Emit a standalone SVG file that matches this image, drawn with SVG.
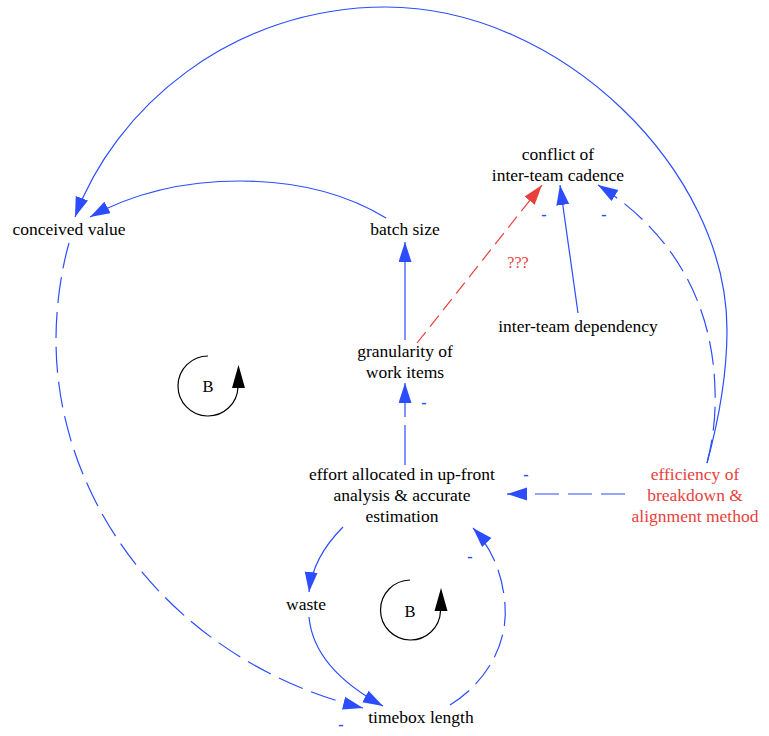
<svg xmlns="http://www.w3.org/2000/svg" width="769" height="736" viewBox="0 0 769 736" font-family="Liberation Serif, Tinos, Times New Roman, DejaVu Serif, serif">
<style>
text{font-family:"Liberation Serif","Tinos","Times New Roman","DejaVu Serif",serif;font-size:17.5px;fill:#000;text-anchor:middle}
.red{fill:#e8413c}
.e{fill:none;stroke:#2b4cff;stroke-width:1.2}
.er{fill:none;stroke:#e8413c;stroke-width:1.2}
.d1{stroke-dasharray:26 9}
.d2{stroke-dasharray:24 9}
.d3{stroke-dasharray:40 8}
.dr{stroke-dasharray:14 7}
.pol{fill:#2b4cff;font-size:16px;font-weight:bold}
.loop{fill:none;stroke:#000;stroke-width:1.2}
.lb{font-size:16.5px}
</style>
<defs>
<marker id="ab" markerUnits="userSpaceOnUse" markerWidth="21" markerHeight="14" refX="20" refY="6.5" orient="auto">
<path d="M0,0 L20,6.5 L0,13 z" fill="#2b4cff"/>
</marker>
<marker id="ar" markerUnits="userSpaceOnUse" markerWidth="21" markerHeight="14" refX="20" refY="6.5" orient="auto">
<path d="M0,0 L20,6.5 L0,13 z" fill="#e8413c"/>
</marker>
</defs>
<rect width="769" height="736" fill="#fff"/>
<g id="connectors">
<path class="e" marker-end="url(#ab)" d="M707,463 C716,430 727,380 727,330 C727,170 560,7 386,7 C230,7 114,110 75,217"/>
<path class="e" marker-end="url(#ab)" d="M386,218 C340,190 290,181 240,181 C180,181 130,195 90,217"/>
<path class="e" marker-end="url(#ab)" d="M405,340 L405,242"/>
<path class="er dr" marker-end="url(#ar)" d="M417,343 L542,185"/>
<path class="e" marker-end="url(#ab)" d="M578,313 L560,185"/>
<path class="e d2" marker-end="url(#ab)" d="M707,463 C713,440 716,415 715,390 C713,300 670,230 598,185"/>
<path class="e d2" marker-end="url(#ab)" d="M625,494 L507,494"/>
<path class="e d3" marker-end="url(#ab)" d="M405,465 L405,383"/>
<path class="e" marker-end="url(#ab)" d="M343,527 C326,544 312,565 309,592"/>
<path class="e" marker-end="url(#ab)" d="M309,617 C312,650 335,680 383,706"/>
<path class="e d1" marker-end="url(#ab)" d="M69,243 C60,275 56,310 56,340 C56,500 170,660 363,708"/>
<path class="e d2" marker-end="url(#ab)" d="M450,705 C490,680 508,640 505,605 C503,575 492,548 473,528"/>
<text class="red" x="518" y="268" style="font-size:16px">???</text>
<text class="pol" x="544" y="220">-</text>
<text class="pol" x="604" y="220">-</text>
<text class="pol" x="424" y="408">-</text>
<text class="pol" x="526" y="480">-</text>
<text class="pol" x="470" y="562">-</text>
<text class="pol" x="341" y="730">-</text>
</g>
<g id="node-conceived-value"><text x="69" y="235">conceived value</text></g>
<g id="node-batch-size"><text x="405" y="235">batch size</text></g>
<g id="node-conflict"><text x="558" y="160">conflict of</text><text x="558" y="181">inter-team cadence</text></g>
<g id="node-dependency"><text x="578" y="332">inter-team dependency</text></g>
<g id="node-granularity"><text x="405" y="357">granularity of</text><text x="405" y="378">work items</text></g>
<g id="node-effort"><text x="402" y="480">effort allocated in up-front</text><text x="402" y="501">analysis &amp; accurate</text><text x="402" y="522">estimation</text></g>
<g id="node-efficiency"><text class="red" x="695" y="480">efficiency of</text><text class="red" x="695" y="501">breakdown &amp;</text><text class="red" x="695" y="522">alignment method</text></g>
<g id="node-waste"><text x="306" y="610">waste</text></g>
<g id="node-timebox"><text x="421" y="723">timebox length</text></g>
<g id="loop-b1">
<path class="loop" d="M208,356 A30,30 0 1 0 238,387"/>
<polygon points="238.5,365 232,388 245,388" fill="#000"/>
<text class="lb" x="208" y="392">B</text>
</g>
<g id="loop-b2">
<path class="loop" d="M410,580 A30,30 0 1 0 440.5,611"/>
<polygon points="441,588 434.5,611 447.5,611" fill="#000"/>
<text class="lb" x="410" y="617">B</text>
</g>
</svg>
